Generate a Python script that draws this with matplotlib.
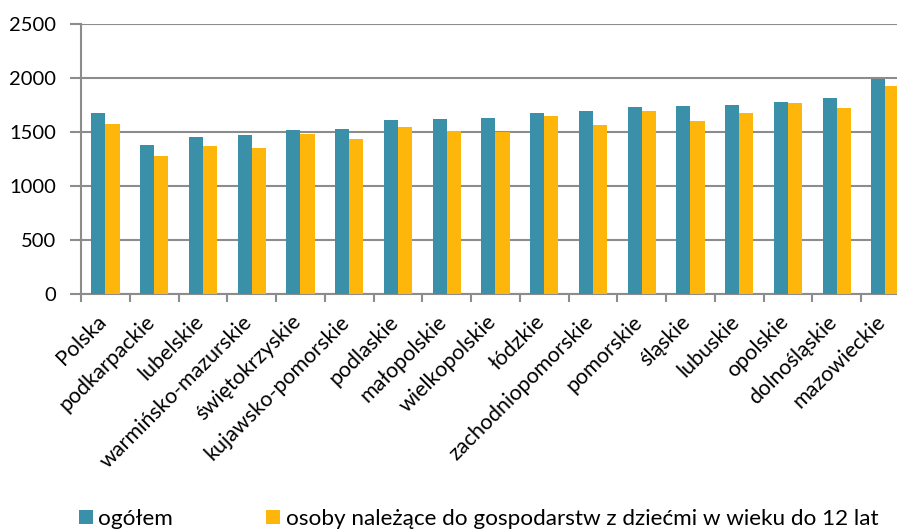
import matplotlib
matplotlib.use('Agg')
import matplotlib.pyplot as plt
import numpy as np
from matplotlib.ticker import FixedLocator

regions = ["Polska", "podkarpackie", "lubelskie", "warmińsko-mazurskie",
           "świętokrzyskie", "kujawsko-pomorskie", "podlaskie", "małopolskie",
           "wielkopolskie", "łódzkie", "zachodniopomorskie", "pomorskie",
           "śląskie", "lubuskie", "opolskie", "dolnośląskie", "mazowieckie"]
ogolem = [1673, 1376, 1453, 1469, 1521, 1527, 1611, 1623, 1626,
          1673, 1698, 1732, 1738, 1750, 1778, 1812, 1997]
dzieci = [1574, 1280, 1373, 1351, 1481, 1435, 1546, 1506, 1500,
          1645, 1561, 1691, 1605, 1676, 1766, 1719, 1926]
yticks = [0, 500, 1000, 1500, 2000, 2500]

plt.rcParams['font.family'] = ['Lato', 'DejaVu Sans']
teal = '#3a90a8'
yellow = '#ffb60a'
grey = '#8c8c8c'

fig = plt.figure(figsize=(8.97, 5.31), dpi=100)
ax = fig.add_axes([0.0903, 0.4469, 0.924, 0.5073])

x = np.arange(len(regions))
w = 0.29
b1 = ax.bar(x - w / 2, ogolem, w, color=teal, label='ogółem', zorder=3)
b2 = ax.bar(x + w / 2, dzieci, w, color=yellow,
            label='osoby należące do gospodarstw z dziećmi w wieku do 12 lat', zorder=3)

ax.set_xlim(-0.5, len(regions) - 0.5)
ax.set_ylim(0, 2500)
ax.set_yticks(yticks)
ax.yaxis.grid(True, color=grey, linewidth=1.5, zorder=0)
ax.set_axisbelow(True)

# category names as rotated annotations (a bit left of the tick centre)
ax.set_xticks(x)
ax.set_xticklabels([])
for xi, name in zip(x, regions):
    ax.annotate(name, xy=(xi, 0), xycoords=('data', 'axes fraction'),
                xytext=(-2, -18), textcoords='offset points',
                rotation=45, ha='right', va='center', rotation_mode='anchor',
                fontsize=15.5, annotation_clip=False)
ax.xaxis.set_minor_locator(FixedLocator(np.arange(-0.5, len(regions), 1)))
ax.tick_params(axis='x', which='major', length=0)
ax.tick_params(axis='x', which='minor', length=6, width=1.5, color=grey)
ax.tick_params(axis='y', length=8, width=1.5, color=grey, labelsize=14.5, pad=10)

for s in ['top', 'right']:
    ax.spines[s].set_visible(False)
for s in ['left', 'bottom']:
    ax.spines[s].set_color(grey)
    ax.spines[s].set_linewidth(1.5)

fig.legend(handles=[b1, b2], loc='center left', bbox_to_anchor=(0.0756, 0.023),
           ncol=2, frameon=False, fontsize=16.2, handlelength=0.6, handleheight=0.6,
           handletextpad=0.25, columnspacing=4.15, borderpad=0)

plt.savefig('out.png', dpi=100)
